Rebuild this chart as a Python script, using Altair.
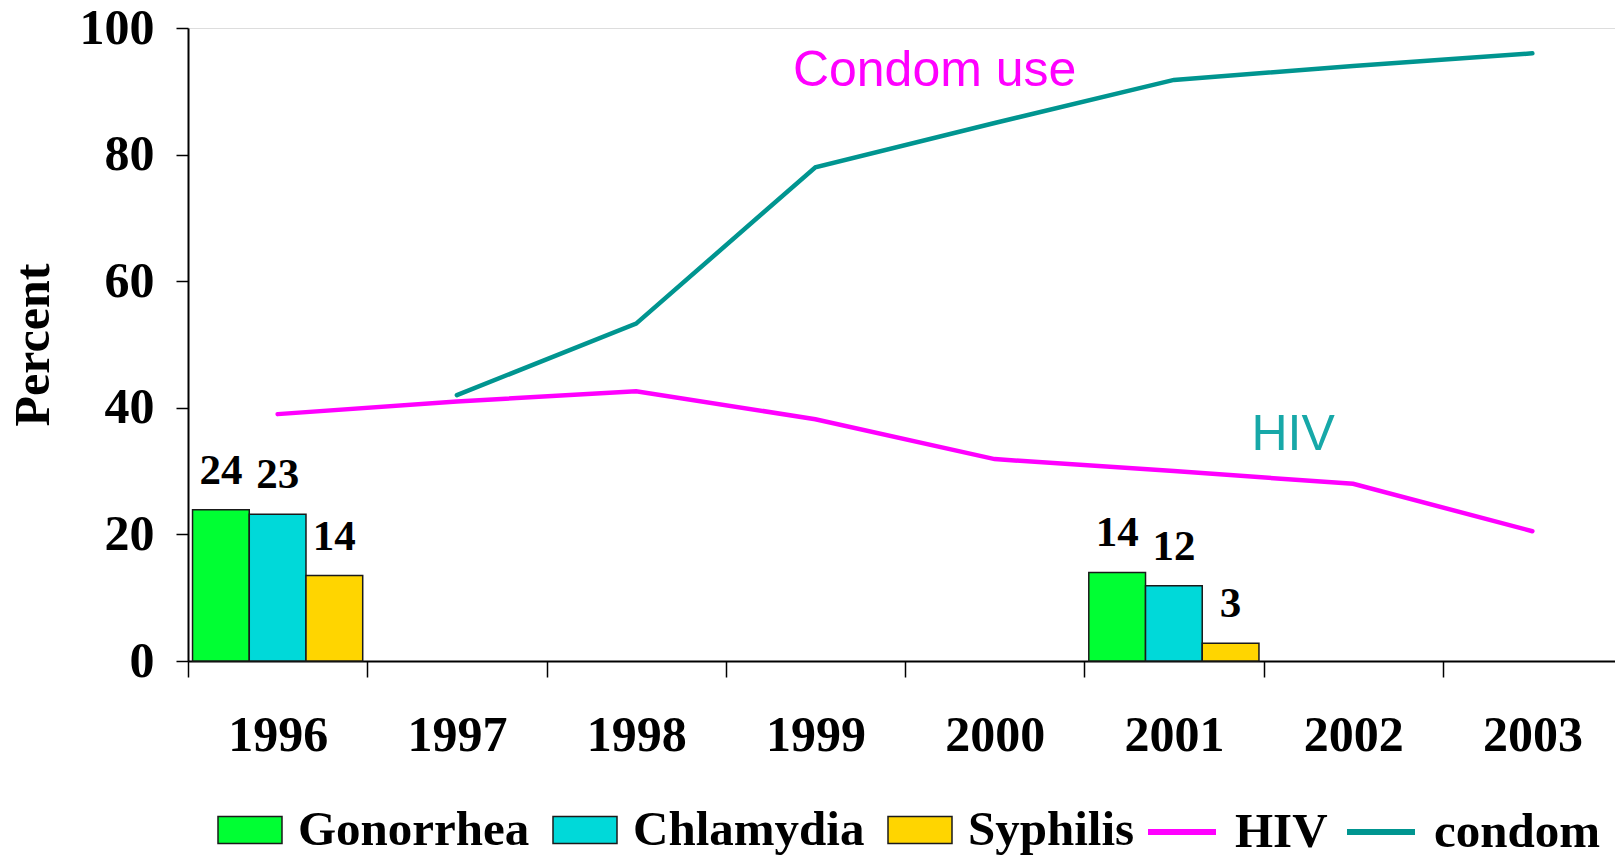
import altair as alt
import pandas as pd

# ---------------- data ----------------
years = ["1996", "1997", "1998", "1999", "2000", "2001", "2002", "2003"]
diseases = ["Gonorrhea", "Chlamydia", "Syphilis"]
bar_years = ["1996", "2001"]
gonorrhea = [23.9, 14.0]
chlamydia = [23.2, 11.9]
syphilis = [13.5, 2.8]
gonorrhea_lbl = ["24", "14"]
chlamydia_lbl = ["23", "12"]
syphilis_lbl = ["14", "3"]

hiv = [39.0, 41.0, 42.6, 38.2, 31.9, 30.0, 28.0, 20.5]
condom_years = ["1997", "1998", "1999", "2000", "2001", "2002", "2003"]
condom = [42.0, 53.3, 78.0, 85.0, 91.8, 94.0, 96.0]

annot_text = ["Condom use", "HIV"]
annot_year = ["2000", "2002"]
annot_value = [90.9, 33.4]

series_names = ["HIV", "condom"]

# ---------------- tables ----------------
rows = []
for i, y in enumerate(bar_years):
    rows.append({"year": y, "disease": "Gonorrhea", "value": gonorrhea[i], "label": gonorrhea_lbl[i]})
    rows.append({"year": y, "disease": "Chlamydia", "value": chlamydia[i], "label": chlamydia_lbl[i]})
    rows.append({"year": y, "disease": "Syphilis", "value": syphilis[i], "label": syphilis_lbl[i]})
bar_df = pd.DataFrame(rows)

line_rows = [{"year": y, "series": "HIV", "value": v} for y, v in zip(years, hiv)]
line_rows += [{"year": y, "series": "condom", "value": v} for y, v in zip(condom_years, condom)]
line_df = pd.DataFrame(line_rows)

annot_df = pd.DataFrame({"year": annot_year, "value": annot_value, "label": annot_text})

SERIF = "Liberation Serif"
SANS = "Liberation Sans"

# the x axis runs slightly past the right edge of the page, as in the original
x_scale = alt.Scale(domain=years, paddingInner=0, paddingOuter=0, range=[0, 1434])
y_scale = alt.Scale(domain=[0, 100], nice=False)
xoff_scale = alt.Scale(domain=diseases, paddingInner=0, paddingOuter=0.08)

x_axis = alt.Axis(
    title=None, labelAngle=0, tickBand="extent", tickSize=16, tickWidth=1.5,
    tickColor="black", domainColor="black", domainWidth=2,
    labelFont=SERIF, labelFontSize=50, labelFontWeight="bold", labelColor="black",
    labelPadding=33, labelOverlap=False, grid=False,
)
y_axis = alt.Axis(
    title="Percent", values=[0, 20, 40, 60, 80, 100], tickSize=12, tickWidth=1.5,
    tickColor="black", domainColor="black", domainWidth=2,
    labelFont=SERIF, labelFontSize=50, labelFontWeight="bold", labelColor="black",
    labelPadding=22, grid=False,
    titleFont=SERIF, titleFontSize=50, titleFontWeight="bold", titleColor="black",
    titlePadding=21,
)

bars = alt.Chart(bar_df).mark_bar(stroke="#1a1a1a", strokeWidth=1.5).encode(
    x=alt.X("year:N", scale=x_scale, axis=x_axis),
    xOffset=alt.XOffset("disease:N", scale=xoff_scale),
    y=alt.Y("value:Q", scale=y_scale, axis=y_axis),
    color=alt.Color(
        "disease:N",
        scale=alt.Scale(domain=diseases, range=["#00FF33", "#00D9D9", "#FFD500"]),
        legend=alt.Legend(
            title=None, orient="none", legendX=29, legendY=769, direction="horizontal",
            symbolType="M-1,-0.42H1V0.42H-1Z", symbolSize=4096,
            symbolStrokeColor="#1a1a1a", symbolStrokeWidth=1.5, symbolOpacity=1,
            labelFont=SERIF, labelFontSize=49, labelFontWeight="bold", labelColor="black",
            labelOffset=15, columnPadding=20, padding=0, labelLimit=500,
        ),
    ),
)

bar_text = alt.Chart(bar_df).mark_text(
    font=SERIF, fontSize=43, fontWeight="bold", baseline="alphabetic", dy=-26, color="black"
).encode(
    x=alt.X("year:N", scale=x_scale),
    xOffset=alt.XOffset("disease:N", scale=xoff_scale),
    y=alt.Y("value:Q", scale=y_scale),
    text="label:N",
)

lines = alt.Chart(line_df).mark_line(strokeWidth=4.5, strokeCap="round").encode(
    x=alt.X("year:N", scale=x_scale),
    y=alt.Y("value:Q", scale=y_scale),
    stroke=alt.Stroke(
        "series:N",
        scale=alt.Scale(domain=series_names, range=["#FF00FF", "#009590"]),
        legend=alt.Legend(
            title=None, orient="none", legendX=957, legendY=767, direction="horizontal",
            symbolType="stroke", symbolSize=4624, symbolStrokeWidth=6,
            labelFont=SERIF, labelFontSize=49, labelFontWeight="bold", labelColor="black",
            labelOffset=16, columnPadding=7, padding=0, labelLimit=500,
        ),
    ),
)

annots = alt.Chart(annot_df).mark_text(
    font=SANS, fontSize=50, baseline="alphabetic", dx=-60
).encode(
    x=alt.X("year:N", scale=x_scale),
    y=alt.Y("value:Q", scale=y_scale),
    text="label:N",
    color=alt.condition(alt.datum.label == "HIV", alt.value("#17A8A8"), alt.value("#FF00FF")),
)

chart = alt.layer(bars, bar_text, lines, annots).properties(
    width=1427, height=633,
    autosize=alt.AutoSizeParams(type="none"),
    padding={"left": 180, "top": 20, "right": 0, "bottom": 196},
).configure_view(stroke=None).configure(background="white")

chart.save("out.html", embed_options={"renderer": "svg", "actions": False})
